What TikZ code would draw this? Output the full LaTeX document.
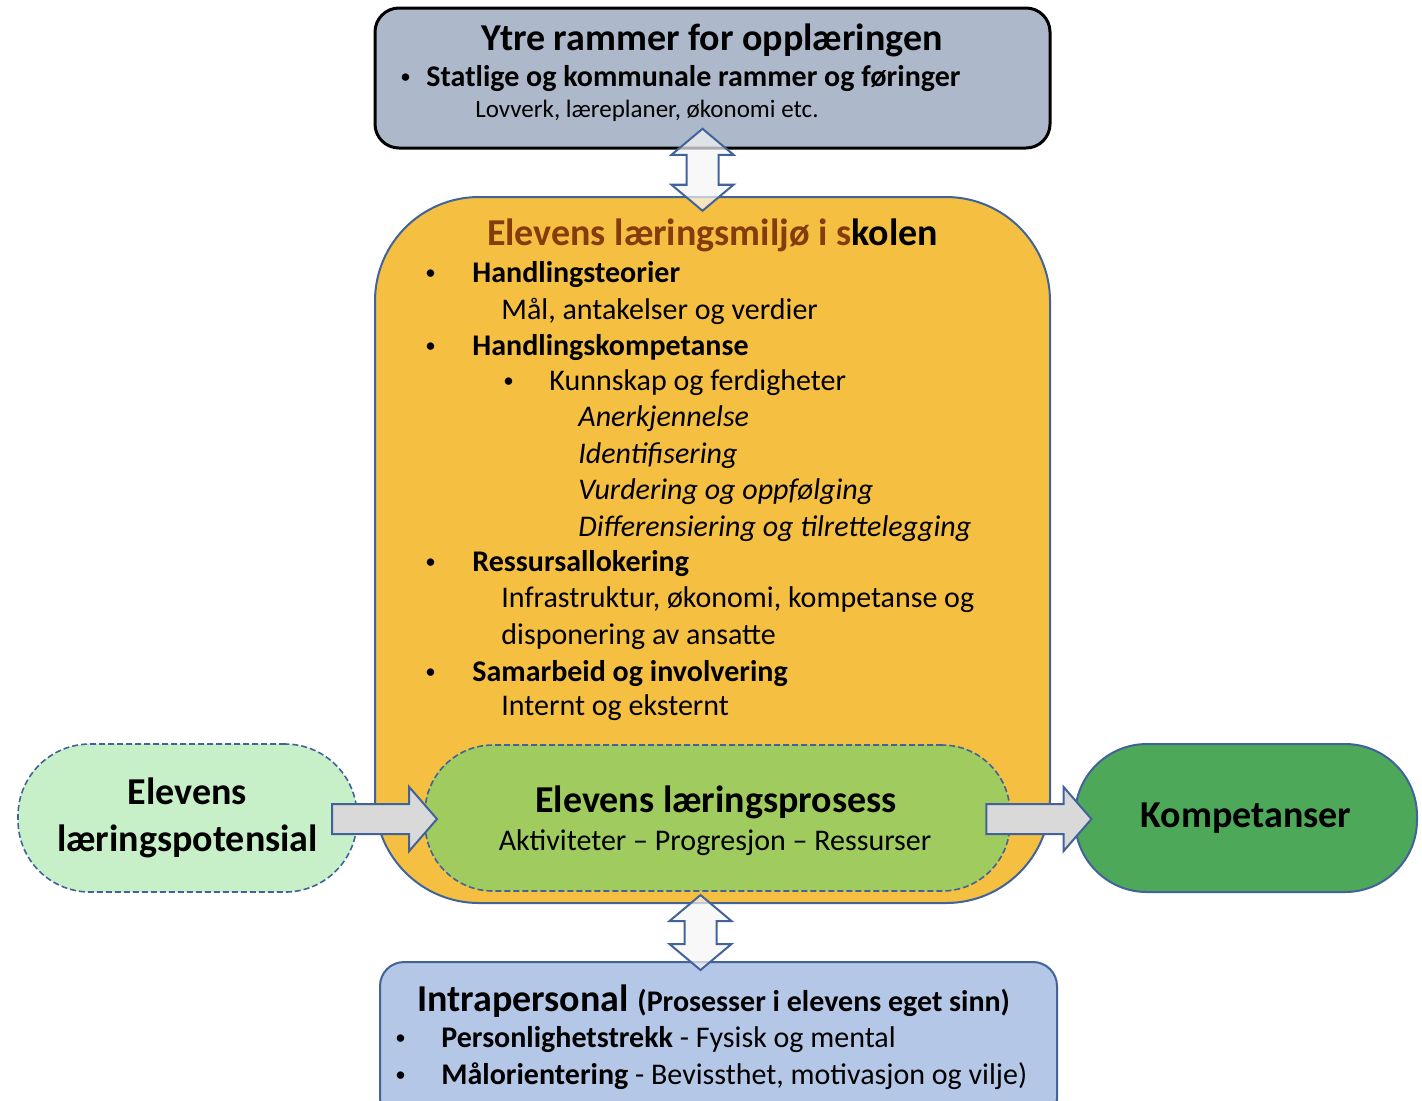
\documentclass[tikz,border=0pt]{standalone}
\usepackage{fontspec}
\setmainfont{Carlito}
\usetikzlibrary{shapes.arrows,calc}
\definecolor{rimblue}{HTML}{41639A}
\definecolor{frameblue}{HTML}{ADB9CA}
\definecolor{envyellow}{HTML}{F5BF42}
\definecolor{procgreen}{HTML}{A0CB5E}
\definecolor{potgreen}{HTML}{C8F0C8}
\definecolor{compgreen}{HTML}{4EA85A}
\definecolor{intrablue}{HTML}{B4C7E7}
\definecolor{titlebrown}{HTML}{843C0C}
\definecolor{arrowgray}{HTML}{D9D9D9}
\newcommand{\dotmark}[1]{\makebox[#1][l]{\normalfont\raisebox{0.1em}{\scalebox{0.7}{•}}}}

\begin{document}
\begin{tikzpicture}[
  x=0.5pt, y=-0.5pt,
  box/.style={draw=rimblue, line width=1pt, inner sep=0pt},
  dashbox/.style={box, line width=0.8pt, dash pattern=on 3pt off 1.5pt},
  hdr/.style={inner sep=0pt, font=\fontsize{19}{23.5}\selectfont\bfseries},
  itm/.style={anchor=base west, inner sep=0pt, font=\fontsize{15}{18}\selectfont},
  small/.style={anchor=base west, inner sep=0pt, font=\fontsize{12.5}{15}\selectfont},
  flow/.style={single arrow, draw=rimblue, line width=1pt, fill=arrowgray,
    inner sep=7pt, minimum height=52.5pt, minimum width=31pt,
    single arrow head extend=8.5pt, single arrow tip angle=98},
  link/.style={double arrow, draw=rimblue, line width=1pt, fill=gray!8,
    fill opacity=0.7, inner sep=7.5pt, minimum width=30pt,
    double arrow head extend=7.5pt, double arrow tip angle=100,
    shape border rotate=90}
]
\clip (0,0) rectangle (1422,1100);

% School environment and the process inside it
\node[box, fill=envyellow, rounded corners=52pt, minimum width=337.5pt,
  minimum height=353pt] (miljo) at (712.5,550) {};
\node[dashbox, fill=procgreen, rounded corners=34pt, minimum width=292.5pt,
  minimum height=73pt] (prosess) at (717.5,818) {};

% Potential and competences
\node[dashbox, hdr, fill=potgreen, rounded corners=36pt, align=center,
  minimum width=169.5pt, minimum height=74pt] (potensial) at (187.5,818)
  {Elevens\\læringspotensial};
\node[box, hdr, fill=compgreen, rounded corners=36pt, minimum width=171pt,
  minimum height=74pt] (kompetanse) at (1246,818) {Kompetanser};

% Outer frame and intrapersonal box
\node[box, draw=black, line width=1.5pt, fill=frameblue, rounded corners=12pt,
  minimum width=337.5pt, minimum height=70pt] (ytre) at (712.5,78) {};
\node[box, fill=intrablue, rounded corners=12pt, minimum width=338.5pt,
  minimum height=80pt] (intra) at (718.5,1042) {};

% Texts, top
\node[hdr, anchor=base] (ytretitle) at (712,50) {Ytre rammer for opplæringen};
\node[itm, font=\fontsize{15}{18}\selectfont\bfseries] (statlig) at (400,86)
  {\dotmark{13pt}Statlige og kommunale rammer og føringer};
\node[small] (lovverk) at (475,117) {Lovverk, læreplaner, økonomi etc.};

% Texts, environment
\node[hdr, anchor=base] (miljotitle) at (712.5,245)
  {\textcolor{titlebrown}{Elevens læringsmiljø i s}kolen};
\node[itm] (hteori) at (425,282) {\dotmark{23.5pt}\textbf{Handlingsteorier}};
\node[itm] (maal) at (501,319) {Mål, antakelser og verdier};
\node[itm] (hkomp) at (425,355) {\dotmark{23.5pt}\textbf{Handlingskompetanse}};
\node[itm] (kunnskap) at (503,390) {\dotmark{23pt}Kunnskap og ferdigheter};
\node[itm] (anerk) at (578,426) {\textit{Anerkjennelse}};
\node[itm] (ident) at (578,463) {\textit{Identifisering}};
\node[itm] (vurd) at (578,499) {\textit{Vurdering og oppfølging}};
\node[itm] (diff) at (578,536) {\textit{Differensiering og tilrettelegging}};
\node[itm] (ressurs) at (425,571) {\dotmark{23.5pt}\textbf{Ressursallokering}};
\node[itm] (infra) at (501,607) {Infrastruktur, økonomi, kompetanse og};
\node[itm] (dispo) at (501,644) {disponering av ansatte};
\node[itm] (samarb) at (425,681) {\dotmark{23.5pt}\textbf{Samarbeid og involvering}};
\node[itm] (intern) at (501,715) {Internt og eksternt};

% Texts, process
\node[hdr, anchor=base] (prosesstitle) at (716,812) {Elevens læringsprosess};
\node[itm, anchor=base] (aktiv) at (715,850) {Aktiviteter – Progresjon – Ressurser};

% Texts, intrapersonal
\node[itm, font=\fontsize{19}{22}\selectfont\bfseries] (intratitle) at (417,1011)
  {Intrapersonal \fontsize{15}{18}\selectfont(Prosesser i elevens eget sinn)};
\node[itm] (person) at (395,1047)
  {\dotmark{23pt}\textbf{Personlighetstrekk} - Fysisk og mental};
\node[itm] (maalor) at (395,1084)
  {\dotmark{23pt}\textbf{Målorientering} - Bevissthet, motivasjon og vilje)};

% Block arrows
\node[flow] (inn) at ($(potensial.east)!0.5!(prosess.west)+(-13,1)$) {};
\node[flow] (ut) at ($(prosess.east)!0.5!(kompetanse.west)+(-10,1)$) {};
\node[link, minimum height=41pt] (oppe) at ($(ytre.south)!0.5!(miljo.north)+(-10,-3)$) {};
\node[link, minimum height=37.5pt] (nede) at ($(miljo.south)!0.5!(intra.north)+(-15,0)$) {};

\end{tikzpicture}
\end{document}
